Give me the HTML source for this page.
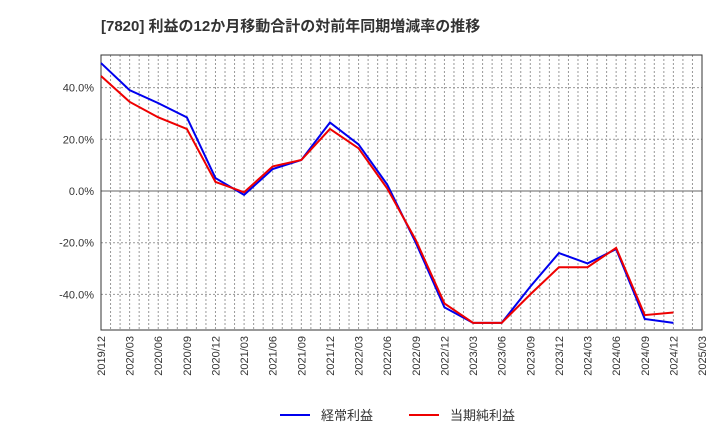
<!DOCTYPE html>
<html><head><meta charset="utf-8"><style>
body{margin:0;background:#fff;font-family:"Liberation Sans","Noto Sans CJK JP",sans-serif}
</style></head><body>
<svg id="c" width="720" height="440" xmlns="http://www.w3.org/2000/svg">
<text x="101" y="31" font-size="15" font-weight="bold" fill="#333">[7820]  利益の12か月移動合計の対前年同期増減率の推移</text>
<g id="grid"></g><g id="axes"></g><g id="series"></g>
<g>
<line x1="280" y1="415" x2="310" y2="415" stroke="#0000ee" stroke-width="2"/>
<text x="321" y="420" font-size="13" fill="#333">経常利益</text>
<line x1="409" y1="415" x2="439" y2="415" stroke="#ee0000" stroke-width="2"/>
<text x="450" y="420" font-size="13" fill="#333">当期純利益</text>
</g>
</svg>
<script>
const xLabels=["2019/12","2020/03","2020/06","2020/09","2020/12","2021/03","2021/06","2021/09","2021/12","2022/03","2022/06","2022/09","2022/12","2023/03","2023/06","2023/09","2023/12","2024/03","2024/06","2024/09","2024/12","2025/03"];
const yTicks=[40,20,0,-20,-40];
const ordinary=[49.5,39,34,28.5,5,-1.5,8.5,12,26.5,18,2.5,-20,-45,-51,-51,-37,-24,-28,-22.5,-49.5,-51];
const net=[44.5,34.5,28.5,24,3.5,-0.5,9.5,12,24,16.5,1,-19,-43.5,-51,-51,-40,-29.5,-29.5,-22,-48,-47];
const L=101,R=702,T=55,B=330,NS="http://www.w3.org/2000/svg";
const xs=i=>L+(R-L)*i/(xLabels.length-1);
const ys=v=>191-v*51.7/20;
function mk(t,a,p){const e=document.createElementNS(NS,t);for(const k in a)e.setAttribute(k,a[k]);p.appendChild(e);return e;}
const g=document.getElementById('grid'),ax=document.getElementById('axes'),s=document.getElementById('series');
for(let m=1;m<(xLabels.length-1)*3;m++){const x=L+(R-L)*m/((xLabels.length-1)*3);
const l=mk('line',{x1:x,x2:x,y1:T,y2:B,stroke:'#999','stroke-dasharray':'2,2','stroke-width':1},g);

}
yTicks.forEach(v=>{const y=ys(v);
const l=mk('line',{x1:L,x2:R,y1:y,y2:y,stroke:v===0?'#666':'#999','stroke-dasharray':v===0?'':'2,2','stroke-width':1},g);


const t=mk('text',{x:L-7,y:y+4,'text-anchor':'end','font-size':11,fill:'#333'},ax);t.textContent=v.toFixed(1)+'%';

});
xLabels.forEach((lab,i)=>{const x=xs(i);
const t=mk('text',{transform:`translate(${x+4},${B+6}) rotate(-90)`,'text-anchor':'end','font-size':11,fill:'#333'},ax);t.textContent=lab;

});
const fr=mk('rect',{x:L,y:T,width:R-L,height:B-T,fill:'none',stroke:'#333','stroke-width':1},ax);


[[ordinary,'#0000ee','ordinary-profit-line'],[net,'#ee0000','net-profit-line']].forEach(([d,c,n])=>{
const p=mk('polyline',{points:d.map((v,i)=>xs(i)+','+ys(v)).join(' '),fill:'none',stroke:c,'stroke-width':2},s);

});
</script>
</body></html>
